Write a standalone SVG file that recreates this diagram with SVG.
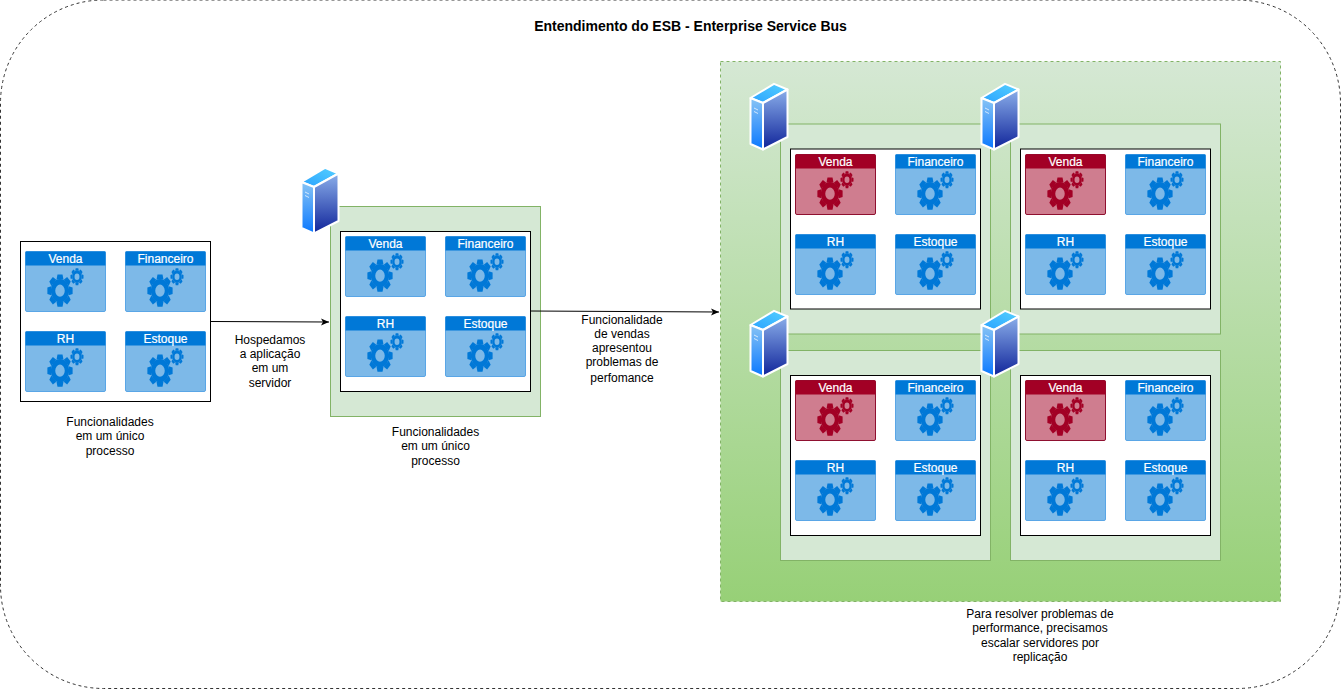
<svg xmlns="http://www.w3.org/2000/svg" width="1341" height="689" viewBox="0 0 1341 689">
<style>
text{font-family:"Liberation Sans",Arial,sans-serif;font-size:12px;fill:#000;text-anchor:middle}
.title{font-size:14px;font-weight:bold}
.panel{fill:#d5e8d4;stroke:#82b366}
.box{fill:#fff;stroke:#000}
.body{fill:#7db9e8;stroke:#5aa6e6}
.head{fill:#0078d7}
.gear{color:#0078d7}
.body-r{fill:#cf7d8f;stroke:#8f1030}
.head-r{fill:#a20025}
.gear-r{color:#a20025}
.ct{fill:#fff;stroke:#fff;stroke-width:.2px}
.line{fill:none;stroke:#000}
</style>
<defs>
<linearGradient id="bigFill" x1="0" y1="0" x2="0" y2="1"><stop offset="0" stop-color="#d5e8d4"/><stop offset="1" stop-color="#97d077"/></linearGradient>
<linearGradient id="sTop" x1="0" y1="1" x2="1" y2="0"><stop offset="0" stop-color="#2aa2ff"/><stop offset="1" stop-color="#55d0ff"/></linearGradient>
<linearGradient id="sLeft" x1="0" y1="0" x2="0" y2="1"><stop offset="0" stop-color="#88c4f5"/><stop offset="1" stop-color="#0a78ff"/></linearGradient>
<linearGradient id="sRight" x1="0" y1="0" x2="0" y2="1"><stop offset="0" stop-color="#8aaeea"/><stop offset="1" stop-color="#10249a"/></linearGradient>
<marker id="arrow" markerWidth="9" markerHeight="8" refX="8" refY="4" orient="auto" markerUnits="userSpaceOnUse"><path d="M0 .5L8 4L0 7.5L2 4Z" fill="#000"/></marker>
<g id="gearShape" fill="currentColor">
<circle r="7.2" fill="none" stroke="currentColor" stroke-width="4.6"/>
<path id="t" d="M-2.6-13H2.6L3.6-9H-3.6Z"/>
<use href="#t" transform="rotate(45)"/><use href="#t" transform="rotate(90)"/><use href="#t" transform="rotate(135)"/><use href="#t" transform="rotate(180)"/><use href="#t" transform="rotate(225)"/><use href="#t" transform="rotate(270)"/><use href="#t" transform="rotate(315)"/>
</g>
<g id="card">
<rect class="body" x="0.5" y="0.5" width="80" height="60" rx="1.5"/>
<rect class="head" x="0.5" y="0.5" width="80" height="14"/>
<g class="gear"><use href="#gearShape" transform="translate(35 39.7) scale(.97 1.24)"/><use href="#gearShape" transform="translate(52 25.7) scale(.5 .65)"/></g>
</g>
<g id="cardRed">
<rect class="body-r" x="0.5" y="0.5" width="80" height="60" rx="1.5"/>
<rect class="head-r" x="0.5" y="0.5" width="80" height="14"/>
<g class="gear-r"><use href="#gearShape" transform="translate(35 39.7) scale(.97 1.24)"/><use href="#gearShape" transform="translate(52 25.7) scale(.5 .65)"/></g>
</g>
<g id="server" stroke="#fff" stroke-width="2" stroke-linejoin="round">
<path d="M25 .8L38.5 6.5L14 20L1.5 15Z" fill="url(#sTop)"/>
<path d="M1.5 15L14 20V66.5L1.5 61Z" fill="url(#sLeft)"/>
<path d="M14 20L38.5 6.5V54L14 66.5Z" fill="url(#sRight)"/>
<path d="M5 25L9 27M5 28.5L9 30.5" fill="none" stroke-width=".7"/>
</g>
</defs>
<g id="frame">
<rect x="0.5" y="0" width="1340" height="688.5" rx="103" ry="103" fill="#fff" stroke="#333" stroke-dasharray="3 3"/>
<text class="title" x="690.5" y="31">Entendimento do ESB - Enterprise Service Bus</text>
</g>
<g id="scale-panel"><rect x="720.5" y="61.5" width="560" height="540" fill="url(#bigFill)" stroke="#82b366" stroke-dasharray="3 3"/></g>
<g id="process-1">
<rect class="box" x="20.5" y="241.5" width="190" height="160"/>
<use href="#card" x="25" y="251"/><text class="ct" x="65.5" y="263">Venda</text>
<use href="#card" x="125" y="251"/><text class="ct" x="165.5" y="263">Financeiro</text>
<use href="#card" x="25" y="331"/><text class="ct" x="65.5" y="343">RH</text>
<use href="#card" x="125" y="331"/><text class="ct" x="165.5" y="343">Estoque</text>
</g>
<g id="label-1"><text x="110" y="426">Funcionalidades</text><text x="110" y="440">em um único</text><text x="110" y="455">processo</text></g>
<g id="label-hosp"><text x="270" y="344">Hospedamos</text><text x="270" y="358">a aplicação</text><text x="270" y="372">em um</text><text x="270" y="387">servidor</text></g>
<g id="server-2">
<rect class="panel" x="330.5" y="206.5" width="210" height="210"/>
<rect class="box" x="340.5" y="231.5" width="190" height="160"/>
<use href="#card" x="345" y="236"/><text class="ct" x="385.5" y="248">Venda</text>
<use href="#card" x="445" y="236"/><text class="ct" x="485.5" y="248">Financeiro</text>
<use href="#card" x="345" y="316"/><text class="ct" x="385.5" y="328">RH</text>
<use href="#card" x="445" y="316"/><text class="ct" x="485.5" y="328">Estoque</text>
<use href="#server" x="300" y="167"/>
</g>
<g id="label-2"><text x="435.5" y="436">Funcionalidades</text><text x="435.5" y="450">em um único</text><text x="435.5" y="465">processo</text></g>
<g id="label-vendas"><text x="622" y="324">Funcionalidade</text><text x="622" y="338">de vendas</text><text x="622" y="352">apresentou</text><text x="622" y="366">problemas de</text><text x="622" y="382">perfomance</text></g>
<g id="server-3">
<rect class="panel" x="780.5" y="124" width="210" height="210"/>
<rect class="box" x="790.5" y="149" width="190" height="160"/>
<use href="#cardRed" x="795" y="154"/><text class="ct" x="835.5" y="166">Venda</text>
<use href="#card" x="895" y="154"/><text class="ct" x="935.5" y="166">Financeiro</text>
<use href="#card" x="795" y="234"/><text class="ct" x="835.5" y="246">RH</text>
<use href="#card" x="895" y="234"/><text class="ct" x="935.5" y="246">Estoque</text>
</g>
<g id="server-4">
<rect class="panel" x="1010.5" y="124" width="210" height="210"/>
<rect class="box" x="1020.5" y="149" width="190" height="160"/>
<use href="#cardRed" x="1025" y="154"/><text class="ct" x="1065.5" y="166">Venda</text>
<use href="#card" x="1125" y="154"/><text class="ct" x="1165.5" y="166">Financeiro</text>
<use href="#card" x="1025" y="234"/><text class="ct" x="1065.5" y="246">RH</text>
<use href="#card" x="1125" y="234"/><text class="ct" x="1165.5" y="246">Estoque</text>
</g>
<g id="server-5">
<rect class="panel" x="780.5" y="350.5" width="210" height="210"/>
<rect class="box" x="790.5" y="375.5" width="190" height="160"/>
<use href="#cardRed" x="795" y="380"/><text class="ct" x="835.5" y="392">Venda</text>
<use href="#card" x="895" y="380"/><text class="ct" x="935.5" y="392">Financeiro</text>
<use href="#card" x="795" y="460"/><text class="ct" x="835.5" y="472">RH</text>
<use href="#card" x="895" y="460"/><text class="ct" x="935.5" y="472">Estoque</text>
</g>
<g id="server-6">
<rect class="panel" x="1010.5" y="350.5" width="210" height="210"/>
<rect class="box" x="1020.5" y="375.5" width="190" height="160"/>
<use href="#cardRed" x="1025" y="380"/><text class="ct" x="1065.5" y="392">Venda</text>
<use href="#card" x="1125" y="380"/><text class="ct" x="1165.5" y="392">Financeiro</text>
<use href="#card" x="1025" y="460"/><text class="ct" x="1065.5" y="472">RH</text>
<use href="#card" x="1125" y="460"/><text class="ct" x="1165.5" y="472">Estoque</text>
</g>
<g id="server-icons">
<use href="#server" x="749" y="83"/>
<use href="#server" x="980" y="83"/>
<use href="#server" x="749" y="310"/>
<use href="#server" x="980" y="310"/>
</g>
<g id="connectors">
<path class="line" d="M211 321.5L329 322" marker-end="url(#arrow)"/>
<path class="line" d="M530.5 311L719 312" marker-end="url(#arrow)"/>
</g>
<g id="label-3"><text x="1040" y="618">Para resolver problemas de</text><text x="1040" y="632">performance, precisamos</text><text x="1040" y="647">escalar servidores por</text><text x="1040" y="661">replicação</text></g>
</svg>
